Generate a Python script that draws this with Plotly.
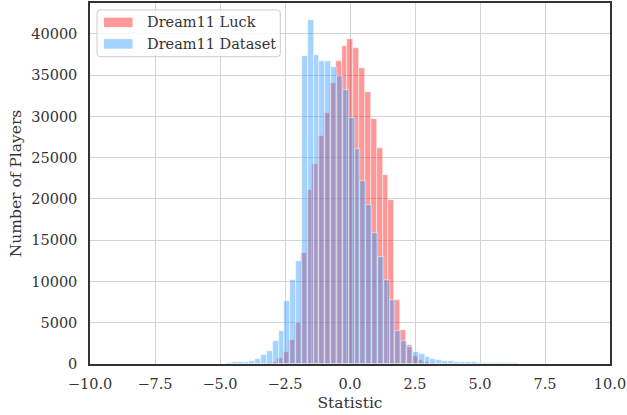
import plotly.graph_objects as go

# Histogram bins (shared width), left edges of first bin per series
bin_width = 0.2245
n_bins = 50
blue_start = -4.766
red_start = -4.811

luck_counts = [0, 0, 0, 0, 0, 0, 30, 100, 260, 670,
               1450, 2950, 4950, 13500, 21130, 24180, 27640, 30400, 34020, 36700,
               38560, 39350, 38300, 35830, 33020, 29640, 26190, 22880, 19870, 7800,
               4140, 2350, 1000, 500, 200, 80, 0, 0, 0, 0,
               0, 0, 0, 0, 0, 0, 0, 0, 0, 0]

dataset_counts = [150, 200, 240, 280, 360, 660, 1140, 1600, 2750, 3940,
                  7590, 10220, 12450, 37350, 41650, 37450, 36700, 36700, 36030, 34900,
                  33220, 29800, 26060, 22220, 19240, 15870, 12930, 10240, 7750, 3950,
                  2750, 2050, 1420, 1170, 800, 600, 480, 400, 320, 280,
                  240, 220, 200, 180, 170, 150, 130, 120, 100, 90]

series_names = ["Dream11 Luck", "Dream11 Dataset"]
series_colors = ["rgba(255,0,0,0.4)", "rgba(30,144,255,0.4)"]

x_ticks = [-10.0, -7.5, -5.0, -2.5, 0.0, 2.5, 5.0, 7.5, 10.0]
y_ticks = [0, 5000, 10000, 15000, 20000, 25000, 30000, 35000, 40000]

def fmt_x(v):
    s = f"{abs(v):.1f}"
    return ("\u2212" + s) if v < 0 else s

luck_x = [red_start + (i + 0.5) * bin_width for i in range(n_bins)]
data_x = [blue_start + (i + 0.5) * bin_width for i in range(n_bins)]

fig = go.Figure()
for xs, ys, name, col in [(luck_x, luck_counts, series_names[0], series_colors[0]),
                          (data_x, dataset_counts, series_names[1], series_colors[1])]:
    fig.add_trace(go.Bar(
        x=xs, y=ys, width=bin_width, name=name, showlegend=False,
        marker=dict(color=col, line=dict(color="rgba(255,255,255,0.8)", width=0.6)),
    ))

font_family = "DejaVu Serif"
text_col = "#333333"

# ---- legend drawn in plot-area (paper) coordinates ----
W, H = 522.0, 363.0          # plot area size in px
def px(xp):  # pixel offset from plot left -> paper x
    return xp / W
def py(yp):  # pixel offset from plot top -> paper y
    return 1 - yp / H

r = 3.0
bx0, bx1, by0, by1 = px(7), px(191), py(7), py(54)
rx, ry = r / W, r / H
path = (f"M {bx0+rx},{by0} L {bx1-rx},{by0} Q {bx1},{by0} {bx1},{by0-ry} "
        f"L {bx1},{by1+ry} Q {bx1},{by1} {bx1-rx},{by1} "
        f"L {bx0+rx},{by1} Q {bx0},{by1} {bx0},{by1+ry} "
        f"L {bx0},{by0-ry} Q {bx0},{by0} {bx0+rx},{by0} Z")
shapes = [dict(type="path", xref="paper", yref="paper", path=path,
               fillcolor="rgba(255,255,255,0.8)", line=dict(color="#cccccc", width=1), layer="above")]
annotations = []
for i, (name, col) in enumerate(zip(series_names, series_colors)):
    top = 14.7 + i * 21.6
    shapes.append(dict(type="rect", xref="paper", yref="paper",
                       x0=px(14), x1=px(42.7), y0=py(top), y1=py(top + 9.6),
                       fillcolor=col, line=dict(width=0), layer="above"))
    annotations.append(dict(text=name, xref="paper", yref="paper", x=px(55), y=py(top + 4.8),
                            xanchor="left", yanchor="middle", showarrow=False,
                            font=dict(family=font_family, size=14.5, color=text_col)))

fig.update_layout(
    width=627, height=415,
    margin=dict(l=90, r=15, t=1, b=51),
    barmode="overlay", bargap=0,
    plot_bgcolor="white", paper_bgcolor="white",
    font=dict(family=font_family, size=14, color=text_col),
    showlegend=False,
    shapes=shapes, annotations=annotations,
    xaxis=dict(range=[-10, 10], tickvals=x_ticks, ticktext=[fmt_x(v) for v in x_ticks],
               showgrid=True, gridcolor="#d4d4d4", gridwidth=1.3,
               showline=True, linecolor="#333333", linewidth=1.5, mirror=True,
               zeroline=False, ticks="outside", ticklen=6, tickcolor="rgba(0,0,0,0)",
               ticklabeloverflow="allow",
               title=dict(text="Statistic", font=dict(family=font_family, size=15.5), standoff=6),
               tickfont=dict(family=font_family, size=14.5)),
    yaxis=dict(range=[0, 43750], tickvals=y_ticks, ticktext=[str(v) for v in y_ticks],
               showgrid=True, gridcolor="#d4d4d4", gridwidth=1.3,
               showline=True, linecolor="#333333", linewidth=1.5, mirror=True,
               zeroline=False, ticks="outside", ticklen=8, tickcolor="rgba(0,0,0,0)",
               title=dict(text="Number of Players", font=dict(family=font_family, size=15.5), standoff=6),
               tickfont=dict(family=font_family, size=14.5)),
)

fig.write_html("out.html")
